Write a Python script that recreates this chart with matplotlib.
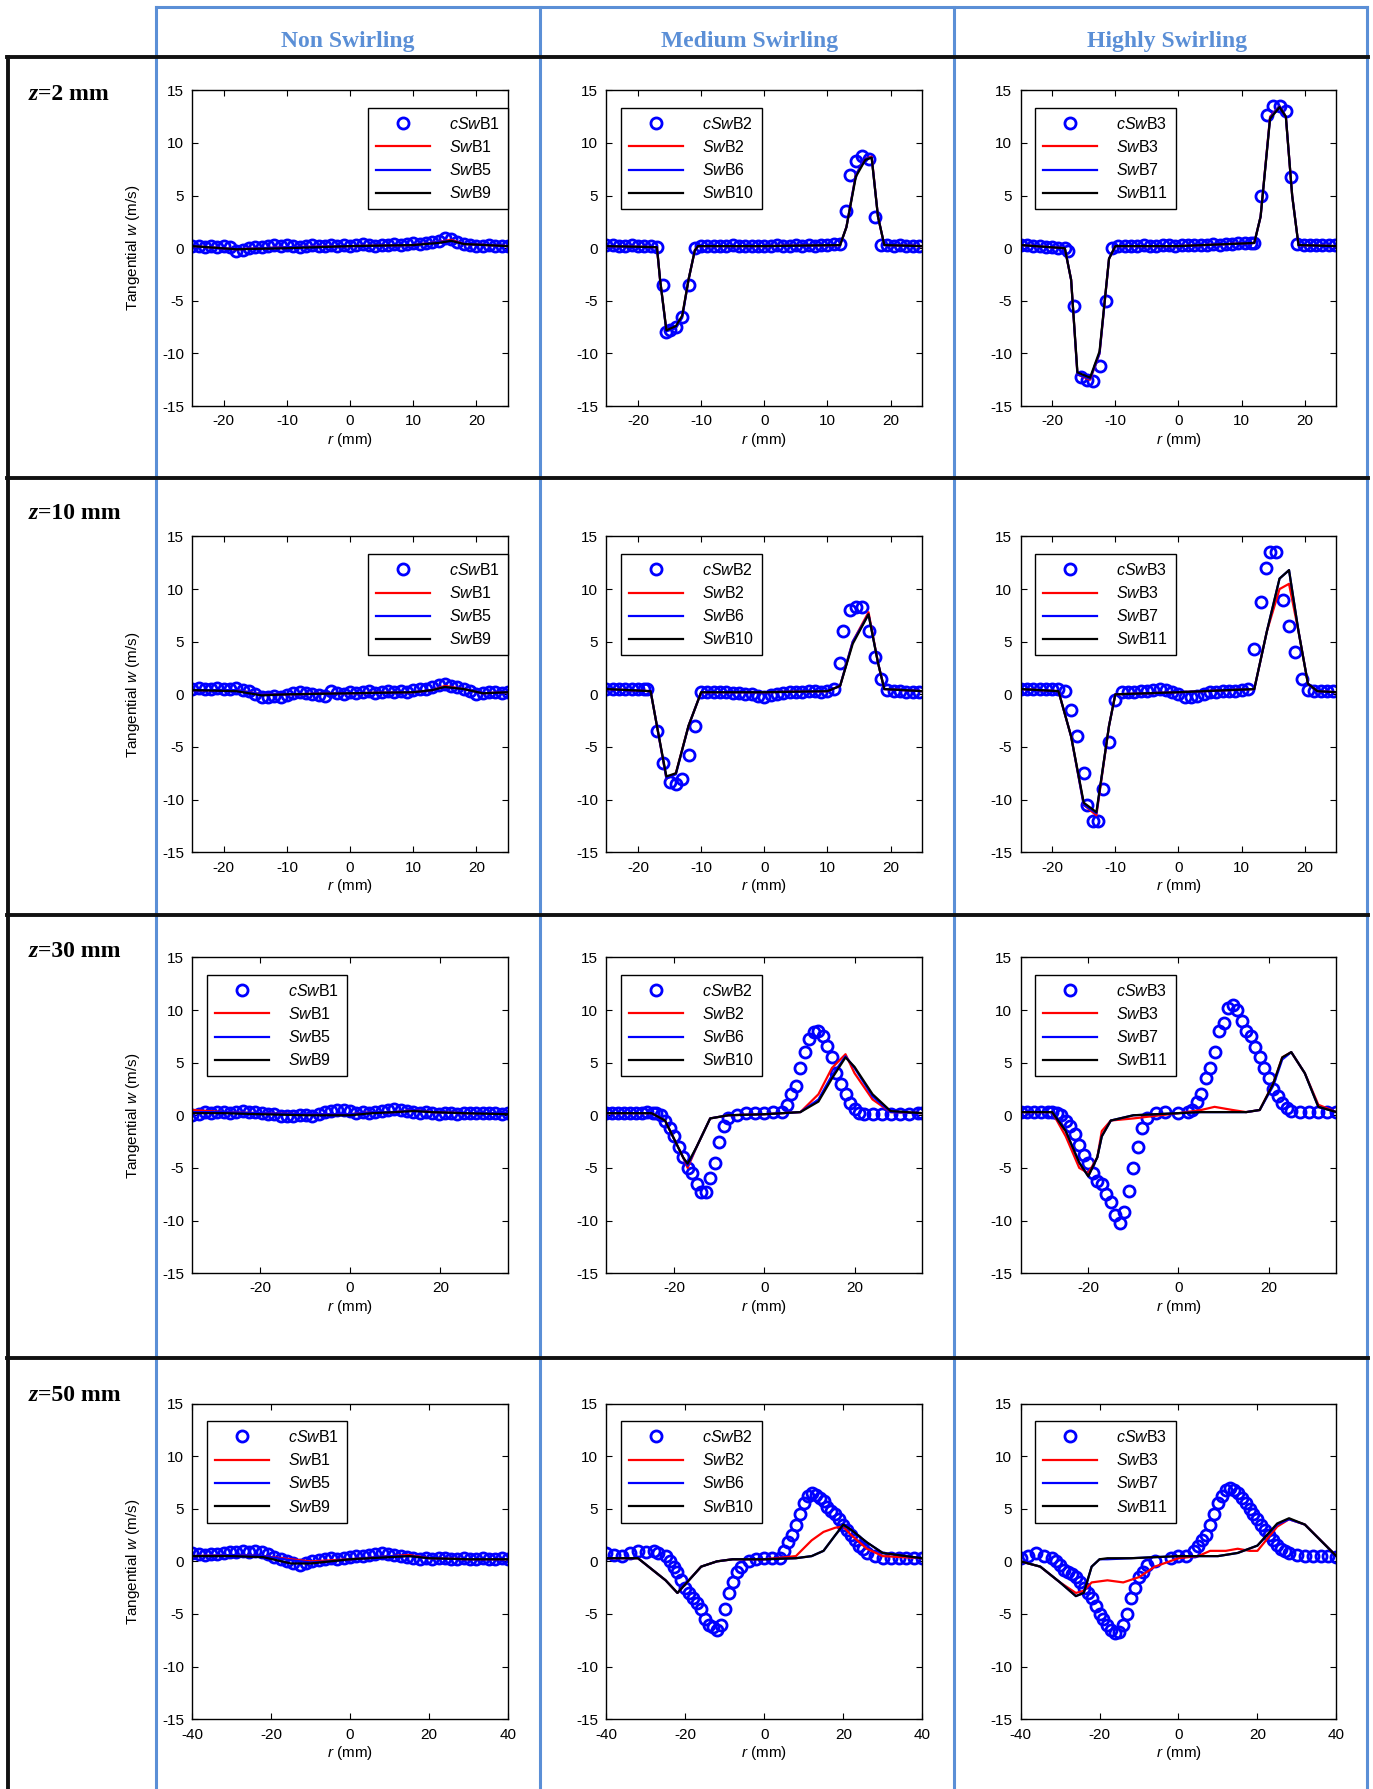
import numpy as np
import matplotlib
matplotlib.use("Agg")
import matplotlib.pyplot as plt
from matplotlib.lines import Line2D

plt.rcParams['font.family'] = 'Liberation Sans'
plt.rcParams['mathtext.fontset'] = 'custom'
plt.rcParams['mathtext.rm'] = 'Liberation Sans'
plt.rcParams['mathtext.it'] = 'Liberation Sans:italic'
plt.rcParams['axes.unicode_minus'] = False

col_titles = ["Non Swirling", "Medium Swirling", "Highly Swirling"]
row_z = ["2", "10", "30", "50"]
case_ids = [[1, 5, 9], [2, 6, 10], [3, 7, 11]]
exp_ids = [1, 2, 3]
xlims = [(-25, 25), (-25, 25), (-35, 35), (-40, 40)]
xticks = [[-20, -10, 0, 10, 20], [-20, -10, 0, 10, 20], [-20, 0, 20], [-40, -20, 0, 20, 40]]

# ---- row z=2 ----
r_exp_z2_non = list(range(-25, 26))
w_exp_z2_non = [0.2, 0.2, 0.1, 0.2, 0.1, 0.2, 0.1, -0.3, -0.2, 0.0, 0.1, 0.1, 0.2, 0.3, 0.2, 0.3, 0.2, 0.1,
                0.2, 0.3, 0.2, 0.2, 0.3, 0.2, 0.3, 0.2, 0.3, 0.4, 0.3, 0.2, 0.3, 0.3, 0.4, 0.3, 0.4, 0.5,
                0.4, 0.5, 0.6, 0.7, 1.0, 0.9, 0.6, 0.4, 0.3, 0.2, 0.2, 0.3, 0.2, 0.2, 0.2]
r_num_z2_non = [-25, -18, -10, 0, 10, 14, 16, 18, 25]
w_red_z2_non = [0.2, -0.1, 0.1, 0.2, 0.3, 0.6, 0.8, 0.4, 0.2]
w_blue_z2_non = [0.2, -0.1, 0.1, 0.2, 0.3, 0.6, 0.7, 0.4, 0.2]
w_black_z2_non = [0.2, -0.1, 0.0, 0.2, 0.3, 0.5, 0.7, 0.4, 0.2]

r_exp_z2_med = [-25, -24, -23, -22, -21, -20, -19, -18, -17, -16, -15.5, -15, -14, -13, -12, -11,
                -10, -9, -8, -7, -6, -5, -4, -3, -2, -1, 0, 1, 2, 3, 4, 5, 6, 7, 8, 9, 10, 11, 12,
                13, 13.5, 14.5, 15.5, 16.5, 17.5, 18.5, 19.5, 20.5, 21.5, 22.5, 23.5, 24.5]
w_exp_z2_med = [0.3, 0.3, 0.2, 0.2, 0.3, 0.2, 0.2, 0.2, 0.1, -3.5, -8.0, -7.8, -7.5, -6.5, -3.5, 0.0,
                0.2, 0.2, 0.2, 0.2, 0.2, 0.3, 0.2, 0.2, 0.2, 0.2, 0.2, 0.2, 0.3, 0.2, 0.2, 0.3, 0.2, 0.3,
                0.2, 0.3, 0.3, 0.4, 0.4, 3.5, 7.0, 8.3, 8.8, 8.5, 3.0, 0.3, 0.3, 0.2, 0.3, 0.2, 0.2, 0.2]
r_num_z2_med = [-25, -17, -16.5, -15.5, -14, -13, -12, -11, -10.5, 0, 12, 13, 14.5, 16, 17, 18, 19, 25]
w_red_z2_med = [0.2, 0.1, -3.0, -7.8, -7.5, -6.5, -3.0, -0.2, 0.2, 0.2, 0.3, 2.0, 7.0, 8.5, 8.7, 3.0, 0.3, 0.2]
w_blue_z2_med = [0.2, 0.1, -3.0, -7.9, -7.6, -6.6, -3.0, -0.2, 0.2, 0.2, 0.3, 2.0, 7.0, 8.5, 8.6, 3.0, 0.3, 0.2]
w_black_z2_med = [0.2, 0.1, -3.0, -7.8, -7.4, -6.4, -3.0, -0.2, 0.2, 0.2, 0.3, 2.0, 6.8, 8.4, 8.6, 3.0, 0.3, 0.2]

r_exp_z2_high = [-25, -24, -23, -22, -21, -20, -19, -18, -17.5, -16.5, -15.5, -14.5, -13.5, -12.5, -11.5, -10.5,
                 -9.5, -8.5, -7.5, -6.5, -5.5, -4.5, -3.5, -2.5, -1.5, -0.5, 0.5, 1.5, 2.5, 3.5, 4.5, 5.5,
                 6.5, 7.5, 8.5, 9.5, 10.5, 11.5, 12, 13, 14, 15, 16, 17, 17.8, 18.8, 19.8, 20.8, 21.8,
                 22.8, 23.8, 24.8]
w_exp_z2_high = [0.3, 0.3, 0.2, 0.2, 0.1, 0.1, 0.0, 0.0, -0.3, -5.5, -12.2, -12.5, -12.6, -11.2, -5.0, 0.0,
                 0.2, 0.2, 0.2, 0.2, 0.3, 0.2, 0.2, 0.3, 0.3, 0.2, 0.3, 0.3, 0.3, 0.3, 0.3, 0.4, 0.3, 0.4,
                 0.4, 0.5, 0.5, 0.5, 0.5, 5.0, 12.7, 13.5, 13.5, 13.0, 6.8, 0.4, 0.3, 0.3, 0.3, 0.3, 0.3, 0.3]
r_num_z2_high = [-25, -18, -17, -16, -14, -12.5, -11, -10, 0, 12, 13, 14.5, 16, 17, 18, 19, 25]
w_red_z2_high = [0.3, 0.0, -3.0, -12.0, -12.5, -10.0, -1.0, 0.2, 0.2, 0.5, 3.0, 12.5, 13.5, 12.5, 5.0, 0.3, 0.2]
w_blue_z2_high = [0.3, 0.0, -3.0, -12.0, -12.4, -10.0, -1.0, 0.2, 0.2, 0.5, 3.0, 12.4, 13.5, 12.5, 5.0, 0.3, 0.2]
w_black_z2_high = [0.3, 0.0, -3.0, -11.8, -12.3, -9.8, -1.0, 0.2, 0.2, 0.5, 3.0, 12.3, 13.4, 12.5, 5.0, 0.3, 0.2]

# ---- row z=10 ----
r_exp_z10_non = list(range(-25, 26))
w_exp_z10_non = [0.5, 0.6, 0.5, 0.5, 0.6, 0.5, 0.5, 0.6, 0.4, 0.3, 0.0, -0.3, -0.3, -0.2, -0.3, -0.1, 0.1, 0.2,
                 0.1, 0.0, -0.1, -0.2, 0.3, 0.1, 0.0, 0.2, 0.1, 0.2, 0.3, 0.1, 0.2, 0.3, 0.2, 0.3, 0.2, 0.4,
                 0.5, 0.5, 0.7, 0.9, 1.0, 0.8, 0.7, 0.5, 0.3, 0.0, 0.1, 0.2, 0.2, 0.1, 0.2]
r_num_z10_non = [-25, -18, -14, -10, 0, 10, 13, 15, 18, 21, 25]
w_red_z10_non = [0.4, 0.4, 0.0, 0.0, 0.1, 0.2, 0.4, 0.8, 0.5, 0.1, 0.2]
w_blue_z10_non = [0.4, 0.4, 0.0, 0.0, 0.1, 0.2, 0.4, 0.7, 0.5, 0.1, 0.2]
w_black_z10_non = [0.4, 0.3, -0.1, 0.0, 0.1, 0.2, 0.4, 0.7, 0.5, 0.1, 0.2]

r_exp_z10_med = [-25, -24, -23, -22, -21, -20, -19, -18.5, -17, -16, -15, -14, -13, -12, -11,
                 -10, -9, -8, -7, -6, -5, -4, -3, -2, -1, 0, 1, 2, 3, 4, 5, 6, 7, 8, 9, 10, 11, 12,
                 12.5, 13.5, 14.5, 15.5, 16.5, 17.5, 18.5, 19.5, 20.5, 21.5, 22.5, 23.5, 24.5]
w_exp_z10_med = [0.5, 0.5, 0.5, 0.5, 0.5, 0.5, 0.5, 0.5, -3.5, -6.5, -8.3, -8.5, -8.0, -5.8, -3.0,
                 0.2, 0.2, 0.2, 0.2, 0.2, 0.1, 0.1, 0.0, 0.0, -0.2, -0.3, -0.1, 0.0, 0.1, 0.2, 0.2, 0.2,
                 0.3, 0.3, 0.2, 0.3, 0.5, 3.0, 6.0, 8.0, 8.3, 8.3, 6.0, 3.5, 1.5, 0.4, 0.3, 0.3, 0.2,
                 0.2, 0.2]
r_num_z10_med = [-25, -18, -17, -15.5, -14, -12, -10, 0, 10, 12, 14, 16.5, 18, 19, 25]
w_red_z10_med = [0.5, 0.3, -3.0, -8.0, -7.5, -3.0, 0.2, 0.2, 0.3, 0.8, 5.0, 7.8, 3.0, 0.5, 0.3]
w_blue_z10_med = [0.5, 0.3, -3.0, -8.0, -7.6, -3.0, 0.2, 0.2, 0.3, 0.8, 5.0, 7.6, 3.0, 0.5, 0.3]
w_black_z10_med = [0.5, 0.3, -3.0, -7.8, -7.5, -3.0, 0.2, 0.2, 0.3, 0.8, 4.8, 7.6, 3.0, 0.5, 0.3]

r_exp_z10_high = [-25, -24, -23, -22, -21, -20, -19, -18, -17, -16, -15, -14.5, -13.5, -12.8, -12, -11, -10,
                  -9, -8, -7, -6, -5, -4, -3, -2, -1, 0, 1, 2, 3, 4, 5, 6, 7, 8, 9, 10, 11, 12, 13, 13.8,
                  14.5, 15.5, 16.5, 17.5, 18.5, 19.5, 20.5, 21.5, 22.5, 23.5, 24.5]
w_exp_z10_high = [0.5, 0.5, 0.5, 0.5, 0.5, 0.5, 0.5, 0.3, -1.5, -4.0, -7.5, -10.5, -12.0, -12.0, -9.0, -4.5,
                  -0.5, 0.2, 0.2, 0.2, 0.3, 0.3, 0.4, 0.5, 0.4, 0.2, 0.0, -0.3, -0.3, -0.2, 0.0, 0.2, 0.2,
                  0.3, 0.3, 0.3, 0.4, 0.5, 4.3, 8.8, 12.0, 13.5, 13.5, 9.0, 6.5, 4.0, 1.5, 0.4, 0.3, 0.3,
                  0.3, 0.3]
r_num_z10_high = [-25, -19, -17, -15, -13, -11, -10, 0, 12, 14, 16, 17.5, 19, 20.5, 22, 25]
w_red_z10_high = [0.5, 0.3, -4.0, -10.5, -11.5, -3.0, 0.0, 0.2, 0.5, 6.0, 10.0, 10.5, 6.0, 1.0, 0.3, 0.2]
w_blue_z10_high = [0.5, 0.3, -4.0, -10.5, -11.3, -3.0, 0.0, 0.2, 0.5, 6.0, 11.0, 11.8, 6.0, 1.0, 0.3, 0.2]
w_black_z10_high = [0.5, 0.3, -4.0, -10.3, -11.2, -3.0, 0.0, 0.2, 0.5, 6.0, 11.0, 11.8, 6.0, 1.0, 0.3, 0.2]

# ---- row z=30 ----
r_exp_z30_non = list(np.arange(-35, 35.1, 1.4))
w_exp_z30_non = [0.0, 0.1, 0.3, 0.2, 0.3, 0.3, 0.2, 0.3, 0.4, 0.3, 0.3, 0.2, 0.1, 0.1, -0.1, -0.1, -0.1, 0.0,
                 0.0, -0.1, 0.1, 0.3, 0.4, 0.5, 0.5, 0.4, 0.2, 0.3, 0.2, 0.3, 0.4, 0.5, 0.6, 0.5, 0.4, 0.3,
                 0.2, 0.3, 0.2, 0.1, 0.2, 0.2, 0.1, 0.2, 0.2, 0.2, 0.2, 0.2, 0.2, 0.1, 0.2]
r_num_z30_non = [-35, -28, -20, -10, 0, 5, 10, 14, 18, 25, 35]
w_red_z30_non = [0.5, 0.3, 0.2, 0.1, 0.1, 0.3, 0.3, 0.5, 0.3, 0.2, 0.2]
w_blue_z30_non = [0.3, 0.3, 0.2, 0.1, 0.1, 0.3, 0.3, 0.5, 0.3, 0.2, 0.2]
w_black_z30_non = [0.2, 0.2, 0.1, 0.0, 0.0, 0.2, 0.3, 0.4, 0.3, 0.2, 0.1]

r_exp_z30_med = [-35, -33.7, -32.4, -31.1, -29.8, -28.5, -27.2, -25.9, -24.6, -24, -23, -22, -21, -20, -19, -18,
                 -17, -16, -15, -14, -13, -12, -11, -10, -9, -8, -6, -4, -2, 0, 2, 4, 5, 6, 7, 8, 9, 10, 11, 12,
                 13, 14, 15, 16, 17, 18, 19, 20, 21, 22, 24, 26, 28, 30, 32, 34, 35]
w_exp_z30_med = [0.2, 0.2, 0.2, 0.2, 0.2, 0.2, 0.2, 0.3, 0.2, 0.2, 0.0, -0.5, -1.2, -2.0, -3.0, -4.0, -5.0, -5.5,
                 -6.5, -7.3, -7.3, -6.0, -4.5, -2.5, -1.0, -0.3, 0.0, 0.2, 0.2, 0.2, 0.3, 0.3, 1.0, 2.0, 2.8,
                 4.5, 6.0, 7.2, 7.9, 8.0, 7.5, 6.6, 5.5, 4.0, 3.0, 2.0, 1.2, 0.6, 0.2, 0.1, 0.1, 0.1, 0.1, 0.1,
                 0.1, 0.2, 0.2]
r_num_z30_med = [-35, -25, -22, -18, -17, -15, -12, -8, 0, 8, 12, 15, 18, 20, 24, 28, 35]
w_red_z30_med = [0.2, 0.2, -0.5, -4.0, -5.0, -3.0, -0.3, 0.0, 0.1, 0.3, 2.0, 4.5, 5.8, 4.0, 1.5, 0.3, 0.2]
w_blue_z30_med = [0.2, 0.2, -0.5, -4.0, -4.8, -3.0, -0.3, 0.0, 0.1, 0.3, 1.5, 3.8, 5.6, 4.5, 1.8, 0.3, 0.2]
w_black_z30_med = [0.2, 0.2, -0.5, -4.0, -4.6, -3.0, -0.3, 0.0, 0.1, 0.3, 1.3, 3.5, 5.5, 4.6, 2.0, 0.4, 0.2]

r_exp_z30_high = [-35, -33.5, -32, -30.5, -29, -28, -27, -26, -25, -24, -23, -22, -21, -20, -19, -18, -17, -16,
                  -15, -14, -13, -12, -11, -10, -9, -8, -7, -5, -3, 0, 2, 3, 4, 5, 6, 7, 8, 9, 10, 11, 12, 13, 14,
                  15, 16, 17, 18, 19, 20, 21, 22, 23, 24, 25, 27, 29, 31, 33, 35]
w_exp_z30_high = [0.3, 0.3, 0.3, 0.3, 0.3, 0.3, 0.2, 0.0, -0.5, -1.0, -1.8, -2.8, -3.8, -4.5, -5.5, -6.2, -6.5,
                  -7.5, -8.2, -9.5, -10.2, -9.2, -7.2, -5.0, -3.0, -1.2, -0.3, 0.2, 0.3, 0.2, 0.3, 0.5, 1.3, 2.0,
                  3.5, 4.5, 6.0, 8.0, 8.8, 10.2, 10.5, 10.0, 9.0, 8.0, 7.5, 6.5, 5.5, 4.5, 3.5, 2.5, 1.8, 1.2,
                  0.7, 0.4, 0.3, 0.3, 0.3, 0.3, 0.3]
r_num_z30_high = [-35, -28, -25, -22, -20, -18, -17, -15, -10, 0, 5, 8, 12, 15, 18, 21, 23, 25, 28, 31, 35]
w_red_z30_high = [0.3, 0.3, -2.0, -5.0, -5.5, -4.0, -1.5, -0.5, -0.3, 0.2, 0.5, 0.8, 0.5, 0.3, 0.5, 3.0, 5.5,
                  6.0, 4.0, 1.0, 0.3]
w_blue_z30_high = [0.3, 0.3, -1.5, -4.5, -5.8, -4.0, -2.0, -0.5, 0.0, 0.2, 0.3, 0.3, 0.3, 0.3, 0.5, 2.8, 5.3,
                   6.0, 4.0, 0.8, 0.3]
w_black_z30_high = [0.3, 0.3, -1.5, -4.5, -5.8, -4.0, -2.0, -0.5, 0.0, 0.2, 0.3, 0.3, 0.3, 0.3, 0.5, 3.0, 5.5,
                    6.0, 4.0, 0.8, 0.3]

# ---- row z=50 ----
r_exp_z50_non = list(np.arange(-40, 40.1, 1.6))
w_exp_z50_non = [0.8, 0.7, 0.6, 0.7, 0.7, 0.8, 0.9, 0.9, 1.0, 0.9, 1.0, 0.9, 0.7, 0.4, 0.2, 0.0, -0.2, -0.3,
                 -0.2, 0.0, 0.1, 0.2, 0.3, 0.2, 0.3, 0.4, 0.5, 0.5, 0.6, 0.7, 0.8, 0.7, 0.6, 0.5, 0.4, 0.3, 0.2,
                 0.3, 0.2, 0.3, 0.3, 0.2, 0.2, 0.3, 0.2, 0.2, 0.3, 0.2, 0.2, 0.3, 0.2]
r_num_z50_non = [-40, -30, -22, -15, -10, -5, 0, 10, 15, 20, 30, 40]
w_red_z50_non = [0.5, 0.6, 0.5, 0.2, 0.0, 0.1, 0.2, 0.5, 0.6, 0.3, 0.2, 0.2]
w_blue_z50_non = [0.5, 0.6, 0.5, 0.1, -0.1, 0.0, 0.2, 0.5, 0.5, 0.3, 0.2, 0.2]
w_black_z50_non = [0.5, 0.5, 0.4, -0.2, -0.2, 0.0, 0.2, 0.4, 0.5, 0.3, 0.2, 0.2]

r_exp_z50_med = [-40, -38, -36, -34, -32, -30, -28, -27, -25, -24, -23, -22, -21, -20, -19, -18, -17, -16, -15,
                 -14, -13, -12, -11, -10, -9, -8, -7, -6, -4, -2, 0, 2, 4, 5, 6, 7, 8, 9, 10, 11, 12, 13, 14, 15,
                 16, 17, 18, 19, 20, 21, 22, 23, 24, 25, 26, 28, 30, 32, 34, 36, 38, 40]
w_exp_z50_med = [0.8, 0.6, 0.5, 0.8, 1.0, 0.9, 1.0, 0.8, 0.5, 0.0, -0.5, -1.0, -1.8, -2.5, -3.0, -3.5, -4.0,
                 -4.5, -5.5, -6.0, -6.2, -6.5, -6.0, -4.5, -3.0, -2.0, -1.0, -0.5, 0.0, 0.2, 0.3, 0.3, 0.3, 1.0,
                 1.8, 2.5, 3.5, 4.5, 5.5, 6.2, 6.5, 6.3, 6.0, 5.7, 5.2, 4.8, 4.5, 4.0, 3.5, 3.0, 2.5, 2.0, 1.5,
                 1.2, 0.8, 0.5, 0.3, 0.3, 0.3, 0.3, 0.3, 0.3]
r_num_z50_med = [-40, -32, -25, -22, -16, -12, -8, 0, 8, 12, 15, 18, 20, 22, 26, 30, 40]
w_red_z50_med = [0.3, 0.3, -1.8, -3.0, -0.5, 0.0, 0.2, 0.2, 0.5, 2.0, 2.8, 3.2, 3.3, 2.5, 1.2, 0.5, 0.3]
w_blue_z50_med = [0.3, 0.3, -1.8, -3.0, -0.5, 0.0, 0.2, 0.2, 0.3, 0.5, 1.0, 2.5, 3.4, 3.0, 1.8, 0.8, 0.3]
w_black_z50_med = [0.3, 0.3, -1.8, -3.0, -0.5, 0.0, 0.2, 0.2, 0.3, 0.5, 1.0, 2.5, 3.5, 3.0, 1.8, 0.8, 0.3]

r_exp_z50_high = [-40, -38, -36, -34, -32, -31, -30, -29, -28, -27, -26, -25, -24, -23, -22, -21, -20, -19, -18,
                  -17, -16, -15, -14, -13, -12, -11, -10, -9, -8, -6, -2, 0, 2, 4, 5, 6, 7, 8, 9, 10, 11, 12, 13,
                  14, 15, 16, 17, 18, 19, 20, 21, 22, 23, 24, 25, 26, 27, 28, 30, 32, 34, 36, 38, 40]
w_exp_z50_high = [0.3, 0.5, 0.8, 0.5, 0.3, 0.0, -0.3, -0.8, -1.0, -1.2, -1.5, -2.0, -2.5, -3.0, -3.5, -4.2, -5.0,
                  -5.5, -6.0, -6.5, -6.8, -6.7, -6.0, -5.0, -3.5, -2.5, -1.5, -1.0, -0.3, 0.0, 0.3, 0.5, 0.5,
                  1.0, 1.5, 2.0, 2.5, 3.5, 4.5, 5.5, 6.2, 6.8, 7.0, 6.8, 6.5, 6.0, 5.5, 5.0, 4.5, 4.0, 3.5, 3.0,
                  2.5, 2.0, 1.6, 1.2, 1.0, 0.8, 0.6, 0.5, 0.5, 0.5, 0.5, 0.4]
r_num_z50_high = [-40, -35, -30, -26, -24, -22, -18, -14, -10, -6, 0, 5, 8, 12, 15, 18, 20, 25, 28, 32, 36, 40]
w_red_z50_high = [0.0, -0.5, -2.0, -3.0, -2.8, -2.0, -1.8, -2.0, -1.5, -0.5, 0.3, 0.5, 1.0, 1.0, 1.2, 1.0, 1.0,
                  3.3, 4.0, 3.5, 2.0, 0.5]
r_num2_z50_high = [-40, -35, -30, -26, -24, -22, -20, -18, -12, 0, 10, 15, 20, 25, 28, 32, 36, 40]
w_blue_z50_high = [0.0, -0.5, -2.0, -3.3, -3.0, -0.5, 0.2, 0.2, 0.3, 0.5, 0.5, 0.8, 1.5, 3.5, 4.0, 3.5, 2.0, 0.5]
w_black_z50_high = [0.0, -0.5, -2.0, -3.3, -3.0, -0.5, 0.2, 0.3, 0.3, 0.5, 0.5, 0.8, 1.5, 3.6, 4.1, 3.5, 2.0, 0.5]

panels = [
    [(r_exp_z2_non, w_exp_z2_non, r_num_z2_non, w_red_z2_non, r_num_z2_non, w_blue_z2_non, w_black_z2_non),
     (r_exp_z2_med, w_exp_z2_med, r_num_z2_med, w_red_z2_med, r_num_z2_med, w_blue_z2_med, w_black_z2_med),
     (r_exp_z2_high, w_exp_z2_high, r_num_z2_high, w_red_z2_high, r_num_z2_high, w_blue_z2_high, w_black_z2_high)],
    [(r_exp_z10_non, w_exp_z10_non, r_num_z10_non, w_red_z10_non, r_num_z10_non, w_blue_z10_non, w_black_z10_non),
     (r_exp_z10_med, w_exp_z10_med, r_num_z10_med, w_red_z10_med, r_num_z10_med, w_blue_z10_med, w_black_z10_med),
     (r_exp_z10_high, w_exp_z10_high, r_num_z10_high, w_red_z10_high, r_num_z10_high, w_blue_z10_high, w_black_z10_high)],
    [(r_exp_z30_non, w_exp_z30_non, r_num_z30_non, w_red_z30_non, r_num_z30_non, w_blue_z30_non, w_black_z30_non),
     (r_exp_z30_med, w_exp_z30_med, r_num_z30_med, w_red_z30_med, r_num_z30_med, w_blue_z30_med, w_black_z30_med),
     (r_exp_z30_high, w_exp_z30_high, r_num_z30_high, w_red_z30_high, r_num_z30_high, w_blue_z30_high, w_black_z30_high)],
    [(r_exp_z50_non, w_exp_z50_non, r_num_z50_non, w_red_z50_non, r_num_z50_non, w_blue_z50_non, w_black_z50_non),
     (r_exp_z50_med, w_exp_z50_med, r_num_z50_med, w_red_z50_med, r_num_z50_med, w_blue_z50_med, w_black_z50_med),
     (r_exp_z50_high, w_exp_z50_high, r_num_z50_high, w_red_z50_high, r_num2_z50_high, w_blue_z50_high, w_black_z50_high)],
]

# legend anchor (axes fraction, upper-left corner) per panel
leg_pos = [[(0.53, 0.97), (0.02, 0.97), (0.02, 0.97)],
           [(0.53, 0.97), (0.02, 0.97), (0.02, 0.97)],
           [(0.02, 0.97), (0.02, 0.97), (0.02, 0.97)],
           [(0.02, 0.97), (0.02, 0.97), (0.02, 0.97)]]

W, H = 1200.0, 1564.0   # layout measured on a scaled view


def fx(x):
    return x / W


def fy(y):
    return 1 - y / H


fig = plt.figure(figsize=(13.73, 17.89), dpi=100)

# table lines
blue = '#5b8fd6'
for x in [136, 472, 834, 1195]:
    fig.add_artist(Line2D([fx(x), fx(x)], [fy(6), fy(1564)], color=blue, lw=2.2))
fig.add_artist(Line2D([fx(136), fx(1195)], [fy(6), fy(6)], color=blue, lw=2.2))
for y in [50, 418, 800, 1187]:
    fig.add_artist(Line2D([fx(6), fx(1196)], [fy(y), fy(y)], color='#111111', lw=2.8, zorder=5))
fig.add_artist(Line2D([fx(7), fx(7)], [fy(50), fy(1564)], color='#111111', lw=2.8))

col_centers = [304, 655, 1020]
for c, t in enumerate(col_titles):
    fig.text(fx(col_centers[c]), fy(36), t, ha='center', va='center', color=blue,
             family='Liberation Serif', fontweight='bold', fontsize=17)

row_tops = [79, 469, 837, 1227]
col_lefts = [168, 530, 892]
label_y = [87, 454, 837, 1225]

axes_grid = []
for i in range(4):
    row_axes = []
    for j in range(3):
        ax = fig.add_axes([fx(col_lefts[j]), fy(row_tops[i] + 276), 276 / W, 276 / H])
        re, we, rn, wr, rn2, wb, wk = panels[i][j]
        ax.plot(re, we, 'o', mfc='none', mec='#0000ff', mew=2, ms=8,
                label=r"$cSw\mathrm{B%d}$" % exp_ids[j])
        ax.plot(rn, wr, color='red', lw=1.6, label=r"$Sw\mathrm{B%d}$" % case_ids[j][0])
        ax.plot(rn2, wb, color='#0000ff', lw=1.6, label=r"$Sw\mathrm{B%d}$" % case_ids[j][1])
        ax.plot(rn2, wk, color='black', lw=1.6, label=r"$Sw\mathrm{B%d}$" % case_ids[j][2])
        ax.set_xlim(*xlims[i])
        ax.set_ylim(-15, 15)
        ax.set_xticks(xticks[i])
        ax.set_yticks([-15, -10, -5, 0, 5, 10, 15])
        ax.tick_params(direction='in', top=True, right=True, labelsize=11, length=4, pad=6)
        ax.set_xlabel(r"$r$ (mm)", fontsize=11, labelpad=2)
        if j == 0:
            ax.set_ylabel(r"Tangential $w$ (m/s)", fontsize=11, labelpad=14)
        leg = ax.legend(loc='upper left', bbox_to_anchor=leg_pos[i][j], fontsize=11.5,
                        handlelength=3.4, borderpad=0.5, labelspacing=0.45, handletextpad=1.2,
                        fancybox=False, edgecolor='black', framealpha=1)
        leg.get_frame().set_linewidth(1.0)
        for sp in ax.spines.values():
            sp.set_linewidth(1.0)
        row_axes.append(ax)
    axes_grid.append(row_axes)

# row labels: bold italic z followed by bold upright text
for i, z in enumerate(row_z):
    zt = fig.text(fx(25), fy(label_y[i]), "z", ha='left', va='baseline',
                  family='Liberation Serif', fontweight='bold', fontstyle='italic', fontsize=17)
    axes_grid[i][0].annotate("=" + z + " mm", xy=(1, 0), xycoords=zt, va='bottom', ha='left',
                             family='Liberation Serif', fontweight='bold', fontsize=17,
                             annotation_clip=False)

fig.savefig('out.png', dpi=100)
